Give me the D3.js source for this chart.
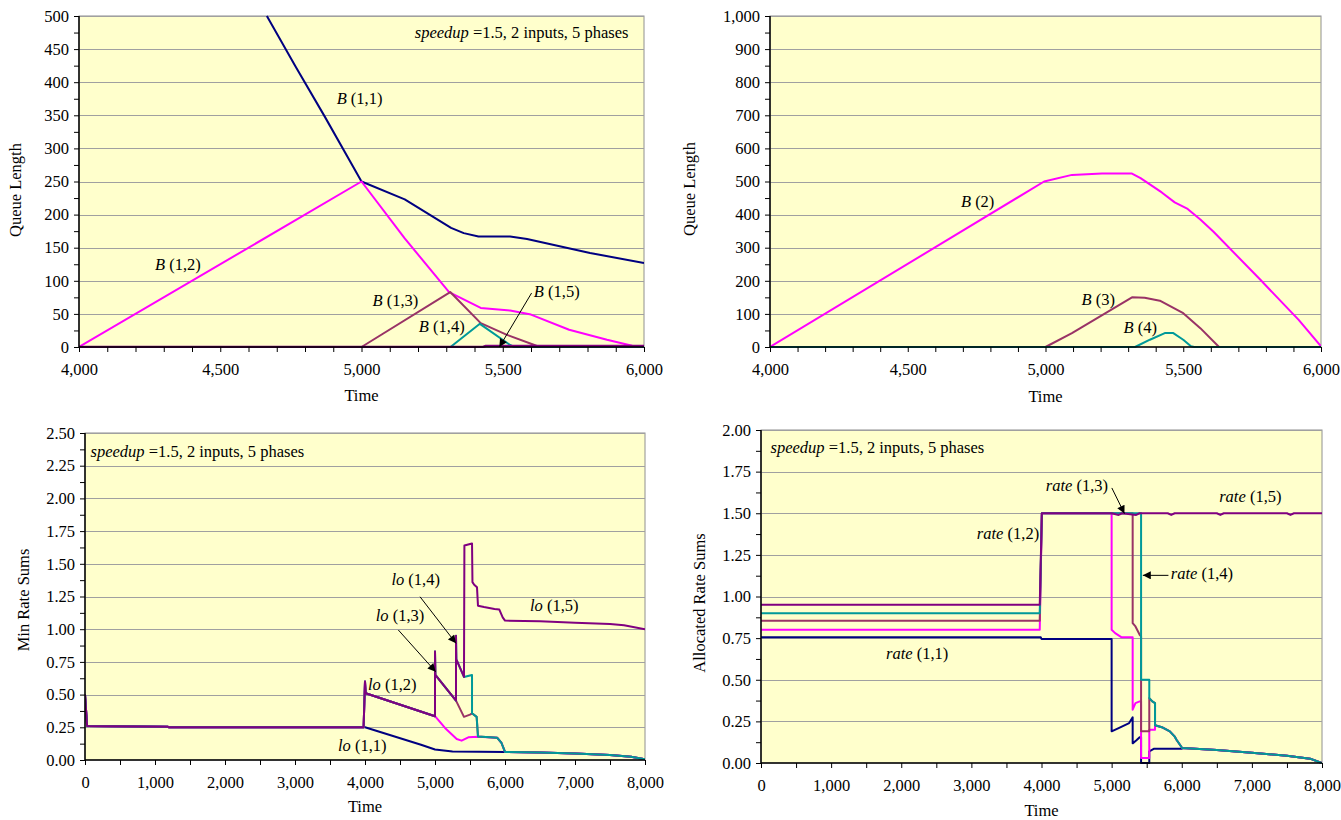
<!DOCTYPE html>
<html><head><meta charset="utf-8">
<script src="https://cdn.jsdelivr.net/npm/d3@7"></script>
<style>
html,body{margin:0;padding:0;background:#fff;}
text{font-family:"Liberation Serif","Times New Roman",serif;fill:#000;}
</style></head>
<body>
<svg id="chart" width="1341" height="820"></svg>
<script>
// ---------- DATA ----------
// Panel 1: queue lengths B(1,k), time 4000-6000
const B11 = [[4665,500],[4766,424],[4870,348],[5000,250],[5153,223],[5317,180],[5362,172],[5414,167],[5526,167],[5586,163],[5809,142],[6000,127]];
const B12 = [[4000,0],[5000,250],[5153,164],[5310,83],[5422,59],[5526,55],[5600,49],[5735,26],[5869,11],[5958,2],[6000,0]];
const B13 = [[4000,0],[5000,0],[5314,83],[5422,36],[5511,19],[5612,3],[5630,0],[6000,0]];
const B14 = [[4000,0],[5315,0],[5419,35],[5526,3],[5540,0],[6000,0]];
const B15 = [[4000,0],[5430,0],[5440,1.5],[6000,1.5]];
// Panel 2: queue lengths B(k)
const B2 = [[4000,0],[4995,500],[5096,520],[5205,524],[5314,524],[5345,510],[5422,467],[5469,437],[5516,417],[5562,385],[5609,349],[5780,203],[5919,82],[6000,2]];
const B3 = [[4000,0],[5000,0],[5096,42],[5314,150],[5360,149],[5415,140],[5500,102],[5562,57],[5630,0],[6000,0]];
const B4 = [[4000,0],[5325,0],[5379,22],[5433,42],[5464,42],[5500,22],[5528,2],[5540,0],[6000,0]];
// Panel 3: min rate sums lo(1,k), time 0-8000
const lo11 = [[0,0.5],[30,0.26],[1180,0.255],[1200,0.25],[4000,0.25],[4800,0.117],[5000,0.08],[5250,0.065],[6000,0.062],[6500,0.058],[7000,0.05],[7500,0.038],[7800,0.025],[8000,0.005]];
const lo12 = [[0,0.5],[30,0.26],[1180,0.255],[1200,0.25],[3980,0.25],[4000,0.6],[4010,0.51],[5000,0.335],[5143,0.245],[5310,0.16],[5380,0.148],[5476,0.173],[5614,0.178],[5890,0.17],[5950,0.13],[6000,0.062],[6500,0.058],[7000,0.05],[7500,0.038],[7800,0.025],[8000,0.005]];
const lo13 = [[0,0.5],[30,0.26],[1180,0.255],[1200,0.25],[3980,0.25],[4000,0.6],[4010,0.51],[5000,0.335],[5000,0.83],[5005,0.65],[5300,0.454],[5414,0.33],[5500,0.347],[5529,0.357],[5595,0.33],[5614,0.18],[5890,0.17],[5950,0.13],[6000,0.062],[6500,0.058],[7000,0.05],[7500,0.038],[7800,0.025],[8000,0.005]];
const lo14 = [[0,0.5],[30,0.26],[1180,0.255],[1200,0.25],[3980,0.25],[4000,0.6],[4010,0.51],[5000,0.335],[5000,0.83],[5005,0.65],[5300,0.454],[5300,0.95],[5305,0.77],[5414,0.635],[5529,0.65],[5529,0.357],[5595,0.33],[5614,0.18],[5890,0.17],[5950,0.13],[6000,0.062],[6500,0.058],[7000,0.05],[7500,0.038],[7800,0.025],[8000,0.005]];
const lo15 = [[0,0.5],[30,0.26],[1180,0.255],[1200,0.25],[3980,0.25],[4000,0.6],[4010,0.51],[5000,0.335],[5000,0.83],[5005,0.65],[5300,0.454],[5300,0.95],[5305,0.77],[5414,0.635],[5420,1.64],[5529,1.655],[5535,1.36],[5560,1.34],[5600,1.32],[5614,1.18],[5700,1.17],[5850,1.155],[5919,1.15],[5967,1.09],[6000,1.066],[6500,1.06],[7000,1.05],[7500,1.04],[7700,1.03],[8000,1.0]];
// Panel 4: allocated rate sums rate(1,k)
const rate11 = [[0,0.755],[3990,0.755],[4000,0.745],[5000,0.745],[5000,0.19],[5100,0.21],[5250,0.24],[5300,0.274],[5300,0.118],[5350,0.135],[5400,0.155],[5420,0.155],[5420,0],[5537,0],[5537,0.07],[5600,0.085],[6000,0.085],[6006,0.09],[6500,0.078],[7000,0.062],[7500,0.043],[7830,0.026],[8000,0]];
const rate12 = [[0,0.80],[3975,0.80],[4005,1.5],[5000,1.5],[5000,0.80],[5050,0.78],[5143,0.755],[5300,0.755],[5300,0.32],[5340,0.36],[5400,0.37],[5420,0.37],[5420,0.03],[5537,0.03],[5537,0.2],[5619,0.2],[5619,0.227],[5716,0.215],[5830,0.19],[5897,0.16],[5925,0.14],[6006,0.09],[6500,0.078],[7000,0.062],[7500,0.043],[7830,0.026],[8000,0]];
const rate13 = [[0,0.855],[3975,0.855],[4005,1.5],[5300,1.5],[5300,0.84],[5340,0.82],[5400,0.77],[5420,0.76],[5420,0.19],[5537,0.19],[5537,0.39],[5580,0.37],[5619,0.36],[5619,0.227],[5716,0.215],[5830,0.19],[5897,0.16],[5925,0.14],[6006,0.09],[6500,0.078],[7000,0.062],[7500,0.043],[7830,0.026],[8000,0]];
const rate14 = [[0,0.9],[3975,0.9],[4005,1.5],[5420,1.5],[5420,0.5],[5537,0.5],[5537,0.39],[5580,0.37],[5619,0.36],[5619,0.227],[5716,0.215],[5830,0.19],[5897,0.16],[5925,0.14],[6006,0.09],[6500,0.078],[7000,0.062],[7500,0.043],[7830,0.026],[8000,0]];
const rate15 = [[0,0.95],[3975,0.95],[4005,1.5],[5000,1.5],[5100,1.49],[5150,1.5],[5350,1.49],[5400,1.5],[5800,1.5],[5850,1.49],[5900,1.5],[6500,1.5],[6550,1.49],[6600,1.5],[7500,1.5],[7550,1.49],[7600,1.5],[8000,1.5]];

const COLORS = {navy:"#000080", magenta:"#FF00FF", brown:"#993366", teal:"#009999", purple:"#800080"};
const FS = 16.5;

// ---------- DRAWING ----------
const svg = d3.select("#chart");
const defs = svg.append("defs");
defs.append("marker").attr("id","arrow").attr("viewBox","0 0 10 10").attr("refX",10).attr("refY",5)
  .attr("markerWidth",10).attr("markerHeight",8).attr("markerUnits","userSpaceOnUse").attr("orient","auto")
  .append("path").attr("d","M0,0L10,5L0,10Z").attr("fill","#000");

function richText(g, x, y, parts, anchor){
  const t = g.append("text").attr("x",x).attr("y",y).attr("dy","0.35em")
    .attr("font-size",FS).attr("text-anchor",anchor||"start");
  parts.forEach(p=>t.append("tspan").attr("font-style",p[1]?"italic":"normal").text(p[0]));
  return t;
}

function panel(cfg){
  const x = d3.scaleLinear().domain(cfg.xd).range([cfg.left,cfg.right]);
  const y = d3.scaleLinear().domain(cfg.yd).range([cfg.bottom,cfg.top]);
  const g = svg.append("g");
  const cid = "clip"+cfg.id;
  defs.append("clipPath").attr("id",cid).append("rect")
    .attr("x",cfg.left).attr("y",cfg.top-2).attr("width",cfg.right-cfg.left).attr("height",cfg.bottom-cfg.top+3);
  g.append("rect").attr("x",cfg.left).attr("y",cfg.top).attr("width",cfg.right-cfg.left).attr("height",cfg.bottom-cfg.top)
    .attr("fill","#FFFFCC").attr("stroke","#909090").attr("stroke-width",1);
  // gridlines
  g.append("g").selectAll("line").data(d3.range(cfg.yd[0]+cfg.ymaj, cfg.yd[1]+cfg.ymaj*0.5, cfg.ymaj)).join("line")
    .attr("x1",cfg.left).attr("x2",cfg.right).attr("y1",d=>Math.round(y(d))+0.5).attr("y2",d=>Math.round(y(d))+0.5)
    .attr("stroke","#A0A0A0").attr("stroke-width",1);
  // series
  const line = d3.line().x(d=>x(d[0])).y(d=>y(d[1]));
  const sg = g.append("g").attr("clip-path",`url(#${cid})`);
  cfg.series.forEach(s=>{
    sg.append("path").attr("d",line(s.data)).attr("fill","none").attr("stroke",COLORS[s.color])
      .attr("stroke-width",s.w||2).attr("stroke-linejoin","round");
  });
  // axes
  const yTicks = d3.range(cfg.yd[0], cfg.yd[1]+cfg.ymin*0.5, cfg.ymin);
  const yAxis = d3.axisLeft(y).tickValues(yTicks).tickSize(5).tickPadding(5)
    .tickFormat(d=> (Math.abs(d/cfg.ymaj - Math.round(d/cfg.ymaj))<1e-6) ? cfg.yfmt(d) : "");
  const ya = g.append("g").attr("transform",`translate(${cfg.left},0)`).call(yAxis);
  const xTicks = d3.range(cfg.xd[0], cfg.xd[1]+cfg.xmin*0.5, cfg.xmin);
  const xAxis = d3.axisBottom(x).tickValues(xTicks).tickSize(5).tickPadding(11)
    .tickFormat(d=> (Math.abs(d/cfg.xmaj - Math.round(d/cfg.xmaj))<1e-6) ? d3.format(",")(d) : "");
  const xa = g.append("g").attr("transform",`translate(0,${cfg.bottom})`).call(xAxis);
  [ya,xa].forEach(a=>{
    a.selectAll("text").attr("font-size",FS).attr("font-family","Liberation Serif").attr("fill","#000");
    a.selectAll("line").attr("stroke","#000");
    a.select(".domain").attr("stroke","#000").attr("stroke-width",1.5);
  });
  ya.select(".domain").attr("d",`M0,${cfg.top}V${cfg.bottom}`);
  xa.select(".domain").attr("d",`M${cfg.left},0H${cfg.right}`);
  // axis titles
  g.append("text").attr("x",(cfg.left+cfg.right)/2).attr("y",cfg.xtitleY).attr("text-anchor","middle")
    .attr("dy","0.35em").attr("font-size",FS).text("Time");
  g.append("text").attr("transform",`translate(${cfg.ytitleX},${cfg.ytitleY}) rotate(-90)`)
    .attr("text-anchor","middle").attr("dy","0.35em").attr("font-size",FS).text(cfg.ytitle);
  // labels
  cfg.labels.forEach(l=>richText(g, x(l.t), y(l.v), l.parts, l.anchor));
  (cfg.arrows||[]).forEach(a=>{
    g.append("line").attr("x1",x(a[0])).attr("y1",y(a[1])).attr("x2",x(a[2])).attr("y2",y(a[3]))
      .attr("stroke","#000").attr("stroke-width",1).attr("marker-end","url(#arrow)");
  });
}

const fmtComma = d3.format(",");
const fmt2 = d3.format(".2f");
const speedupParts = [["speedup",true],[" =1.5, 2 inputs, 5 phases",false]];

panel({id:1, xd:[4000,6000], yd:[0,500], left:79, right:644, top:16, bottom:347,
  xmin:100, xmaj:500, ymin:25, ymaj:50, yfmt:fmtComma, xtitleY:395, ytitleX:15, ytitleY:190, ytitle:"Queue Length",
  series:[{data:B11,color:"navy"},{data:B12,color:"magenta"},{data:B13,color:"brown"},{data:B14,color:"teal"},{data:B15,color:"purple",w:2.5}],
  labels:[{t:5945,v:476,parts:speedupParts,anchor:"end"},
    {t:4912,v:376,parts:[["B",true],[" (1,1)",false]]},
    {t:4269,v:125,parts:[["B",true],[" (1,2)",false]]},
    {t:5039,v:71,parts:[["B",true],[" (1,3)",false]]},
    {t:5203,v:31,parts:[["B",true],[" (1,4)",false]]},
    {t:5610,v:84,parts:[["B",true],[" (1,5)",false]]}],
  arrows:[[5602,81.5,5488,0]]
});

panel({id:2, xd:[4000,6000], yd:[0,1000], left:770, right:1321, top:16, bottom:347,
  xmin:100, xmaj:500, ymin:50, ymaj:100, yfmt:fmtComma, xtitleY:396, ytitleX:689, ytitleY:189, ytitle:"Queue Length",
  series:[{data:B2,color:"magenta"},{data:B3,color:"brown"},{data:B4,color:"teal"}],
  labels:[{t:4693,v:439,parts:[["B",true],[" (2)",false]]},
    {t:5131,v:145,parts:[["B",true],[" (3)",false]]},
    {t:5283,v:60,parts:[["B",true],[" (4)",false]]}]
});

panel({id:3, xd:[0,8000], yd:[0,2.5], left:85, right:645, top:433, bottom:760,
  xmin:500, xmaj:1000, ymin:0.125, ymaj:0.25, yfmt:fmt2, xtitleY:806, ytitleX:23, ytitleY:600, ytitle:"Min Rate Sums",
  series:[{data:lo11,color:"navy"},{data:lo12,color:"magenta"},{data:lo13,color:"brown"},{data:lo14,color:"teal"},{data:lo15,color:"purple"}],
  labels:[{t:79,v:2.357,parts:speedupParts},
    {t:4377,v:1.381,parts:[["lo",true],[" (1,4)",false]]},
    {t:4154,v:1.109,parts:[["lo",true],[" (1,3)",false]]},
    {t:4043,v:0.579,parts:[["lo",true],[" (1,2)",false]]},
    {t:6357,v:1.18,parts:[["lo",true],[" (1,5)",false]]},
    {t:3614,v:0.115,parts:[["lo",true],[" (1,1)",false]]}],
  arrows:[[4786,1.248,5300,0.892],[4476,0.994,5010,0.675]]
});

panel({id:4, xd:[0,8000], yd:[0,2], left:761, right:1322, top:430, bottom:763,
  xmin:500, xmaj:1000, ymin:0.125, ymaj:0.25, yfmt:fmt2, xtitleY:810, ytitleX:699, ytitleY:603, ytitle:"Allocated Rate Sums",
  series:[{data:rate11,color:"navy"},{data:rate12,color:"magenta"},{data:rate13,color:"brown"},{data:rate14,color:"teal"},{data:rate15,color:"purple"}],
  labels:[{t:136,v:1.899,parts:speedupParts},
    {t:4061,v:1.668,parts:[["rate",true],[" (1,3)",false]]},
    {t:6534,v:1.602,parts:[["rate",true],[" (1,5)",false]]},
    {t:3078,v:1.382,parts:[["rate",true],[" (1,2)",false]]},
    {t:5843,v:1.141,parts:[["rate",true],[" (1,4)",false]]},
    {t:1783,v:0.66,parts:[["rate",true],[" (1,1)",false]]}],
  arrows:[[5003,1.652,5183,1.498],[5810,1.127,5445,1.127]]
});
</script>
</body></html>
